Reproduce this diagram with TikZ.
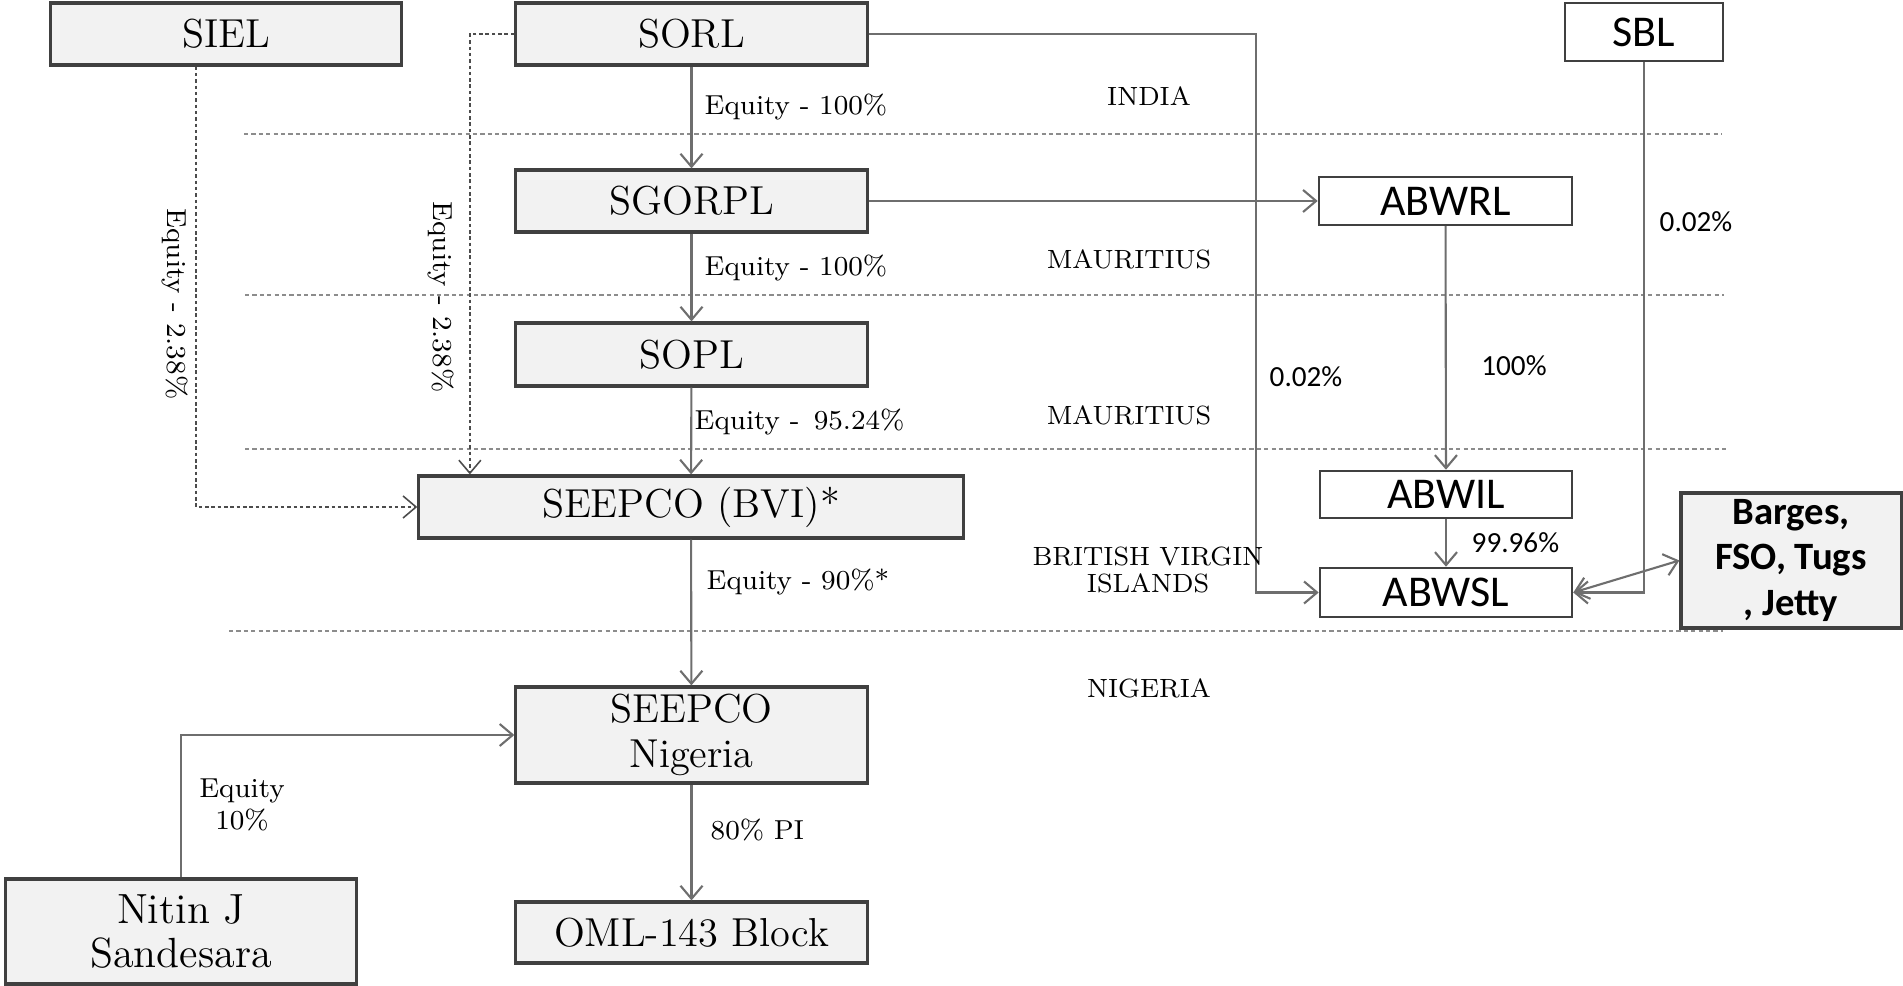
\documentclass[tikz,border=0pt]{standalone}
\usepackage{fontspec}
\newfontfamily\calib{Carlito}
\usetikzlibrary{arrows.meta}
\definecolor{boxfill}{HTML}{F2F2F2}
\definecolor{boxline}{HTML}{404040}
\definecolor{conncol}{HTML}{6E6E6E}
\definecolor{divcol}{HTML}{8C8C8C}
\tikzset{
 graybox/.style={draw=boxline, fill=boxfill, line width=0.9pt, inner sep=0pt, align=center, font=\fontsize{11.5}{12.8}\selectfont},
 whitebox/.style={draw=boxline, fill=white, line width=0.7pt, inner sep=0pt, align=center, font=\calib\fontsize{12.5}{14}\selectfont},
 conn/.style={draw=conncol, line width=0.6pt, -{Straight Barb[length=1.3mm,width=2.2mm]}},
 dconn/.style={conn, draw=black!70, line width=0.45pt, dash pattern=on 1pt off 0.8pt},
 divline/.style={draw=divcol, line width=0.6pt, dash pattern=on 1.2pt off 0.9pt},
 elabel/.style={font=\fontsize{7.8}{9}\selectfont, inner sep=0pt},
 slabel/.style={font=\calib\fontsize{8.3}{10}\selectfont, inner sep=0pt},
 country/.style={font=\fontsize{7.5}{7.8}\selectfont, inner sep=0pt, align=center},
}
\begin{document}
\begin{tikzpicture}[x=0.01cm, y=-0.01cm]
\useasboundingbox (0,0) rectangle (1903,986);
% division lines
\draw[divline] (244,134) -- (1722,134);
\draw[divline] (245,295) -- (1724,295);
\draw[divline] (245,449) -- (1726,449);
\draw[divline] (229,631) -- (1723,631);
% boxes
\node[graybox, minimum width=3.5cm, minimum height=0.62cm] (SIEL) at (226,34) {SIEL};
\node[graybox, minimum width=3.51cm, minimum height=0.62cm] (SORL) at (691.5,34) {SORL};
\node[graybox, minimum width=3.51cm, minimum height=0.62cm] (SGORPL) at (691.5,201) {SGORPL};
\node[graybox, minimum width=3.51cm, minimum height=0.63cm] (SOPL) at (691.5,354.5) {SOPL};
\node[graybox, minimum width=5.44cm, minimum height=0.62cm] (BVI) at (691,507) {SEEPCO (BVI)*};
\node[graybox, minimum width=3.51cm, minimum height=0.96cm] (NIG) at (691.5,735) {SEEPCO\\Nigeria};
\node[graybox, minimum width=3.51cm, minimum height=0.61cm] (OML) at (691.5,932.5) {OML-143 Block};
\node[graybox, minimum width=3.5cm, minimum height=1.05cm, font=\fontsize{12}{12.3}\selectfont] (NJS) at (181,931.5) {Nitin J\\Sandesara};
\node[whitebox, minimum width=1.58cm, minimum height=0.58cm] (SBL) at (1644,32) {SBL};
\node[whitebox, minimum width=2.53cm, minimum height=0.48cm] (ABWRL) at (1445.5,201) {ABWRL};
\node[whitebox, minimum width=2.52cm, minimum height=0.47cm] (ABWIL) at (1446,494.5) {ABWIL};
\node[whitebox, minimum width=2.52cm, minimum height=0.49cm] (ABWSL) at (1446,592.5) {ABWSL};
\node[graybox, minimum width=2.2cm, minimum height=1.35cm, font=\calib\bfseries\fontsize{11}{13}\selectfont] (BRG) at (1791,560.5) {Barges,\\FSO, Tugs\\, Jetty};
% helper coordinate
\coordinate (k1) at (1256,34);
% connectors
\draw[conn] (SORL) -- (SGORPL);
\draw[conn] (SGORPL) -- (SOPL);
\draw[conn] (SOPL) -- (BVI);
\draw[conn] (BVI) -- (NIG);
\draw[conn] (NIG) -- (OML);
\draw[conn] (NJS.north) |- (NIG.west);
\draw[dconn] ([xshift=-0.3cm]SIEL.south) |- (BVI.west);
\draw[dconn] (SORL.west) -| ([xshift=-2.21cm]BVI.north);
\draw[conn] (SORL.east) -- (k1) |- (ABWSL.west);
\draw[conn] (SGORPL.east) -- (ABWRL.west);
\draw[conn] (ABWRL) -- (ABWIL);
\draw[conn] (ABWIL) -- (ABWSL);
\draw[conn] (SBL.south) |- (ABWSL.east);
\draw[conn, {Straight Barb[length=1.3mm,width=2.2mm]}-{Straight Barb[length=1.3mm,width=2.2mm]}] (ABWSL.east) -- (BRG.west);
% edge labels
\node[elabel, anchor=west] (l1) at (704,107) {Equity - 100\%};
\node[elabel, anchor=west] (l2) at (704,268) {Equity - 100\%};
\node[elabel, anchor=west] (l3) at (694,422) {Equity -\, 95.24\%};
\node[elabel, anchor=west] (l4) at (706,582) {Equity - 90\%*};
\node[elabel, anchor=west] (l5) at (710,830) {80\% PI};
\node[elabel, align=center, font=\fontsize{7.8}{9.2}\selectfont] (l6) at (242,805) {Equity\\10\%};
\node[elabel, rotate=-90] (l7) at (175,304) {Equity - 2.38\%};
\node[elabel, rotate=-90] (l8) at (441,297) {Equity - 2.38\%};
\node[slabel, anchor=west] (l9) at (1269,377) {0.02\%};
\node[slabel, anchor=west] (l10) at (1659,222) {0.02\%};
\node[slabel] (l11) at (1514,366) {100\%};
\node[slabel, anchor=west] (l12) at (1471,543) {99.96\%};
% country labels
\node[country] (c1) at (1149,96) {INDIA};
\node[country] (c2) at (1129,259) {MAURITIUS};
\node[country] (c3) at (1129,415) {MAURITIUS};
\node[country] (c4) at (1148,570) {BRITISH VIRGIN\\ISLANDS};
\node[country] (c5) at (1149,688) {NIGERIA};
\end{tikzpicture}
\end{document}
